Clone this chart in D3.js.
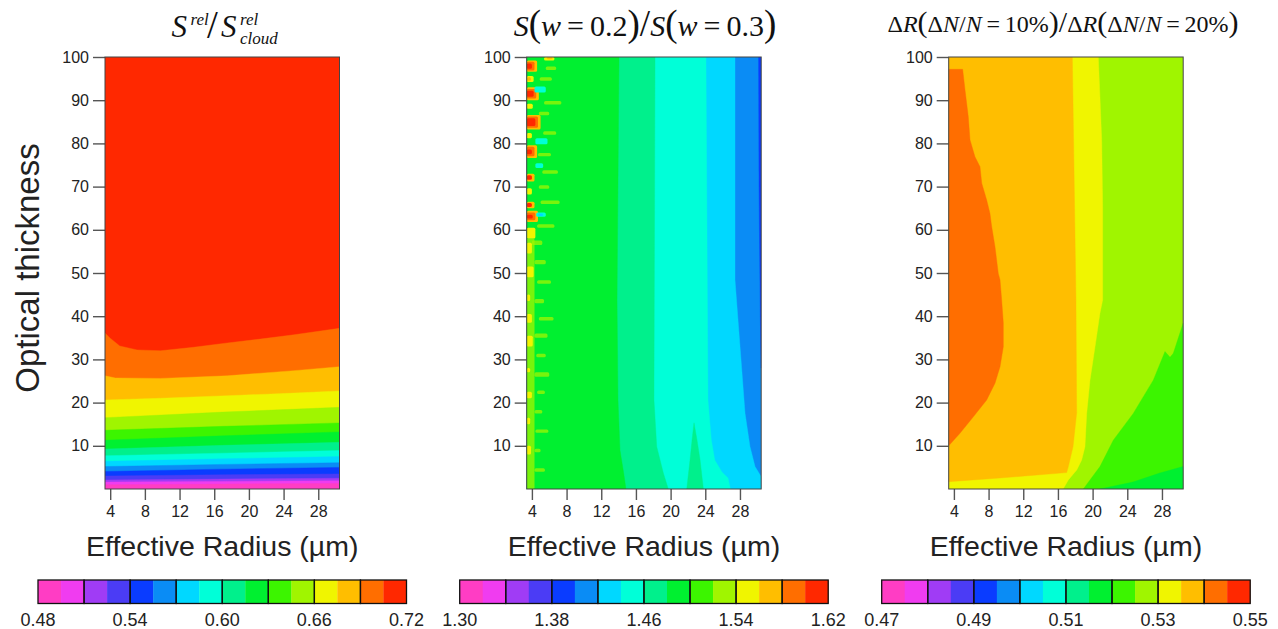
<!DOCTYPE html>
<html>
<head>
<meta charset="utf-8">
<script src="https://cdn.jsdelivr.net/npm/d3@7"></script>
<style>
  body { margin: 0; background: #fff; }
  svg text { font-family: "Liberation Sans", Arial, Helvetica, sans-serif; }
  .math { font-family: "Liberation Serif", "Times New Roman", serif; }
</style>
</head>
<body>
<svg id="chart" width="1278" height="629"></svg>
<script>
// ---- shared data -------------------------------------------------------
const bandColors = ["#ff3dc4", "#f03cf0", "#a03cf5", "#4b3cf5", "#0a3cff", "#0a8cf5",
                    "#00d8ff", "#00ffd8", "#00f08c", "#00f030", "#3cf500", "#a0f500",
                    "#f0f500", "#ffbe00", "#ff6e00", "#ff2800"];
const radiusExtent = [3.4, 30.45];      // effective radius (µm)
const tauExtent = [0, 100];             // optical thickness
const radiusTicks = [4, 8, 12, 16, 20, 24, 28];
const tauTicks = [10, 20, 30, 40, 50, 60, 70, 80, 90, 100];

// colour-bar ranges and labels for the three panels
const cbRange1 = [0.48, 0.72];
const cbLabels1 = [0.48, 0.54, 0.60, 0.66, 0.72];
const cbRange2 = [1.30, 1.62];
const cbLabels2 = [1.30, 1.38, 1.46, 1.54, 1.62];
const cbRange3 = [0.47, 0.55];
const cbLabels3 = [0.47, 0.49, 0.51, 0.53, 0.55];

// ---- panel 1: S_rel / S_rel,cloud -------------------------------------
// contour lines [radius, tau]; the region below line k has colour band k
const relBounds = [
  [[3.4, 1.0], [17, 1.15], [30.45, 1.3]],
  [[3.4, 1.6], [17, 1.75], [30.45, 1.9]],
  [[3.4, 2.1], [17, 2.3], [30.45, 2.5]],
  [[3.4, 3.0], [17, 3.3], [30.45, 3.5]],
  [[3.4, 4.05], [17, 4.6], [30.45, 5.0]],
  [[3.4, 5.2], [17, 5.7], [30.45, 6.1]],
  [[3.4, 6.4], [17, 7.0], [30.45, 7.5]],
  [[3.4, 7.7], [17, 8.3], [30.45, 8.9]],
  [[3.4, 9.25], [17, 10.1], [30.45, 10.8]],
  [[3.4, 11.3], [17, 12.3], [30.45, 13.2]],
  [[3.4, 13.6], [17, 14.5], [30.45, 15.3]],
  [[3.4, 16.5], [17, 17.8], [30.45, 18.9]],
  [[3.4, 20.6], [9.8, 21.0], [17.5, 21.6], [25.2, 22.2], [30.45, 22.7]],
  [[3.4, 26.2], [4.6, 25.7], [9.8, 25.6], [17.5, 26.2], [25.2, 27.4], [30.45, 28.3]],
  [[3.4, 36.1], [4.0, 34.9], [5.1, 33.1], [7.1, 32.2], [9.8, 32.0], [13.6, 32.8],
   [17.5, 33.8], [21.3, 34.7], [25.2, 35.7], [30.45, 37.2]]
];
const relTopBand = 15;

// ---- panel 2: S(w=0.2)/S(w=0.3) ---------------------------------------
// contour lines [tau, radius]; the region left of each line has its band
const widthBase = 5;
const widthBounds = [
  { band: 6, pts: [[100, 27.43], [48.4, 27.43], [32.9, 28.01], [17.5, 28.59], [9.8, 29.16], [5.2, 29.74], [2.85, 30.45], [0, 30.45]] },
  { band: 7, pts: [[100, 24.08], [20.6, 24.31], [11.3, 24.7], [6.7, 25.09], [3.9, 25.93], [2.55, 26.62], [0, 26.9]] },
  { band: 8, pts: [[100, 18.2], [20.6, 18.08], [9.8, 18.4], [3.7, 19.16], [0, 19.73]] },
  { band: 9, pts: [[100, 14.05], [43.75, 13.82], [20.6, 13.93], [9.0, 14.16], [3.24, 14.62], [0, 14.85]] }
];
// closed patches [radius, tau]
const widthPatches = [
  { band: 8, pts: [[21.86, 0], [22.24, 6.7], [22.47, 11.3], [22.7, 15.3], [23.05, 11.3], [23.4, 6.7], [23.78, 0]] },
  { band: 4, pts: [[30.15, 100], [30.45, 100], [30.45, 28], [30.35, 40], [30.2, 70]] }
];
// noisy cells near the smallest radii: [r0, r1, tau0, tau1, band]
const widthSpeckles = [
  // faint lime streaks across the strip
  [3.4, 4.3, 0, 58, 11],
  [4.3, 5.6, 52, 53, 11], [4.6, 6.2, 47.5, 48.3, 11], [4.3, 5.4, 43, 44, 11], [4.8, 6.5, 39, 39.8, 11],
  [4.3, 5.8, 35, 36, 11], [4.5, 5.6, 30.5, 31.3, 11], [4.3, 6.0, 26, 27, 11], [4.6, 5.5, 22, 22.8, 11],
  [4.3, 5.2, 17.5, 18.3, 11], [4.4, 5.9, 13, 13.8, 11], [4.3, 5.0, 8.5, 9.3, 11], [4.3, 5.5, 4, 4.8, 11],
  [4.0, 5.2, 56.5, 57.5, 11], [4.6, 6.6, 60.5, 61.3, 11], [5.0, 7.2, 66, 66.8, 11], [4.8, 6.0, 69.5, 70.3, 11],
  [5.2, 7.0, 73, 73.8, 11], [4.7, 6.2, 77, 77.8, 11], [5.3, 6.8, 82, 82.8, 11], [4.8, 6.0, 86.5, 87.3, 11],
  [5.4, 7.4, 89, 89.8, 11], [4.9, 6.3, 94.5, 95.3, 11], [5.6, 6.8, 97, 97.8, 11],
  [3.4, 3.9, 8, 10, 12], [3.4, 3.8, 15, 16.5, 12], [3.4, 4.0, 21, 22.5, 12], [3.4, 3.8, 27, 28, 12],
  [3.4, 4.1, 33, 35.5, 12], [3.4, 4.0, 38.5, 40.5, 12], [3.4, 3.8, 43.5, 45, 12], [3.4, 4.2, 49, 51.5, 12],
  [3.4, 4.0, 54.5, 57, 12], [3.4, 4.4, 58, 60.5, 12],
  // warm blobs along the left edge with amber/orange rims
  [5.4, 6.6, 99.2, 100, 12], [5.7, 6.4, 99.5, 100, 13],
  [3.4, 4.6, 96.6, 99.2, 13], [3.4, 4.3, 96.9, 98.9, 14], [3.4, 4.0, 97.3, 98.5, 15],
  [3.4, 4.2, 94.2, 95.6, 12], [3.4, 3.9, 94.5, 95.3, 13],
  [3.4, 4.8, 90.0, 93.0, 13], [3.4, 4.5, 90.4, 92.6, 14], [3.4, 4.2, 90.8, 92.2, 15],
  [3.4, 4.1, 88.0, 89.2, 12],
  [3.4, 5.0, 83.2, 86.6, 13], [3.4, 4.7, 83.6, 86.2, 14], [3.4, 4.4, 84.0, 85.8, 15],
  [3.4, 4.0, 81.2, 82.4, 12],
  [3.4, 4.6, 76.6, 79.6, 13], [3.4, 4.3, 77.0, 79.2, 14], [3.4, 4.0, 77.5, 78.6, 15],
  [3.4, 4.3, 71.2, 73.0, 13], [3.4, 4.0, 71.6, 72.6, 15],
  [3.4, 4.0, 68.2, 69.6, 12],
  [3.4, 4.3, 65.0, 66.5, 13], [3.4, 4.0, 65.3, 66.2, 15],
  [3.4, 4.7, 61.8, 64.4, 13], [3.4, 4.4, 62.2, 64.0, 14], [3.4, 4.1, 62.6, 63.5, 15],
  // cool blobs just inside the warm ones
  [4.5, 5.4, 92.0, 93.0, 6], [4.3, 5.6, 91.8, 93.2, 7],
  [4.6, 5.6, 80.0, 81.0, 6], [4.4, 5.8, 79.8, 81.2, 7],
  [4.4, 5.3, 74.3, 75.4, 7],
  [4.5, 5.6, 63.0, 64.0, 7], [4.7, 5.3, 63.2, 63.8, 6]
];

// ---- panel 3: ΔR(10%)/ΔR(20%) ------------------------------------------
const dRBase = 11;
// closed regions [radius, tau], painted in order
const dRRegions = [
  { band: 12, pts: [[3.4, 100], [20.66, 100], [21.05, 80.8], [21.16, 65.3], [21.16, 43.75], [20.85, 40.7],
                    [20.28, 32.9], [19.7, 25.2], [19.32, 17.5], [19.12, 9.8], [18.74, 6.7], [18.17, 4.4],
                    [17.2, 2.1], [16.6, 0], [3.4, 0]] },
  { band: 13, pts: [[3.4, 100], [17.66, 100], [18.08, 43.75], [18.16, 17.6], [17.74, 9.8], [17.2, 5.2],
                    [17.01, 3.8], [9.3, 2.55], [3.4, 1.7]] },
  { band: 14, pts: [[3.4, 97.15], [5.01, 97.15], [5.28, 92.4], [5.66, 86.2], [5.86, 80.8], [6.43, 76.9],
                    [7.01, 74.6], [7.21, 70.8], [7.78, 66.9], [8.16, 63.8], [8.36, 60.7], [8.74, 56.1],
                    [9.12, 49.9], [9.32, 48.4], [9.51, 43.75], [9.7, 38.4], [9.7, 32.9], [9.32, 28.3],
                    [8.74, 24.5], [7.78, 20.6], [6.24, 16.7], [4.7, 12.9], [3.4, 10.0]] },
  { band: 10, pts: [[18.93, 0], [20.85, 5.2], [22.39, 11.3], [24.69, 17.5], [27.0, 25.2], [28.35, 31.8],
                    [28.93, 30.5], [29.31, 31.4], [30.45, 38.4], [30.45, 0]] },
  { band: 9, pts: [[20.85, 0], [24.65, 1.6], [27.76, 3.7], [30.45, 5.2], [30.45, 0]] }
];

// ---- layout -------------------------------------------------------------
const svg = d3.select("#chart");
const panelLefts = [105, 526.7, 948.7];
const panelTop = 57, panelW = 234.5, panelH = 432;
const cbTop = 580, cbW = 368.5, cbH = 23.5;
const defs = svg.append("defs");

function panel(i) {
  const left = panelLefts[i];
  const x = d3.scaleLinear().domain(radiusExtent).range([left, left + panelW]);
  const y = d3.scaleLinear().domain(tauExtent).range([panelTop + panelH, panelTop]);
  defs.append("clipPath").attr("id", "clip" + i)
    .append("rect").attr("x", left).attr("y", panelTop).attr("width", panelW).attr("height", panelH);
  const g = svg.append("g");
  const plot = g.append("g").attr("clip-path", `url(#clip${i})`);
  return { x, y, g, plot, left };
}

function fillAll(p, band) {
  p.plot.append("rect")
    .attr("x", p.x(radiusExtent[0])).attr("y", p.y(tauExtent[1]))
    .attr("width", p.x(radiusExtent[1]) - p.x(radiusExtent[0]))
    .attr("height", p.y(tauExtent[0]) - p.y(tauExtent[1]))
    .attr("fill", bandColors[band]);
}

function polygon(p, pts, band) {
  const line = d3.line().x(d => p.x(d[0])).y(d => p.y(d[1]));
  p.plot.append("path").attr("d", line(pts) + "Z").attr("fill", bandColors[band])
    .attr("stroke", bandColors[band]).attr("stroke-width", 0.4);
}

function axes(p) {
  const ya = d3.axisLeft(p.y).tickValues(tauTicks).tickSize(12).tickPadding(4);
  const xa = d3.axisBottom(p.x).tickValues(radiusTicks).tickSize(11).tickPadding(6);
  const gy = p.g.append("g").attr("transform", `translate(${p.left},0)`).call(ya);
  const gx = p.g.append("g").attr("transform", `translate(0,${panelTop + panelH})`).call(xa);
  [gy, gx].forEach(a => {
    a.select(".domain").remove();
    a.selectAll(".tick line").attr("stroke", "#555").attr("stroke-width", 1.4);
    a.selectAll(".tick text").attr("fill", "#222").attr("font-size", 16)
      .attr("font-family", "Liberation Sans, Arial, sans-serif");
  });
  p.g.append("rect").attr("x", p.left).attr("y", panelTop).attr("width", panelW).attr("height", panelH)
    .attr("fill", "none").attr("stroke", "#444").attr("stroke-width", 1);
  p.g.append("text").attr("x", p.left + panelW / 2).attr("y", 556)
    .attr("text-anchor", "middle").attr("font-size", 28.5).attr("fill", "#222")
    .text("Effective Radius (\u00b5m)");
}

function colorbar(p, range, labels) {
  const cx = p.left + panelW / 2;
  const s = d3.scaleLinear().domain(range).range([cx - cbW / 2, cx + cbW / 2]);
  const step = (range[1] - range[0]) / bandColors.length;
  const g = svg.append("g");
  g.selectAll("rect.cell").data(bandColors).join("rect").attr("class", "cell")
    .attr("x", (d, k) => s(range[0] + k * step)).attr("y", cbTop)
    .attr("width", (d, k) => s(range[0] + (k + 1) * step) - s(range[0] + k * step) + 0.3)
    .attr("height", cbH).attr("fill", d => d);
  g.selectAll("rect.pair").data(d3.range(bandColors.length / 2)).join("rect").attr("class", "pair")
    .attr("x", k => s(range[0] + 2 * k * step)).attr("y", cbTop)
    .attr("width", k => s(range[0] + (2 * k + 2) * step) - s(range[0] + 2 * k * step))
    .attr("height", cbH).attr("fill", "none").attr("stroke", "#111").attr("stroke-width", 1.3);
  g.selectAll("text").data(labels).join("text")
    .attr("x", d => s(d)).attr("y", 626).attr("text-anchor", "middle")
    .attr("font-size", 18).attr("fill", "#222").text(d => d.toFixed(2));
}

// ---- panel 1 -------------------------------------------------------------
const p1 = panel(0);
fillAll(p1, relTopBand);
for (let k = relBounds.length - 1; k >= 0; k--) {
  const area = d3.area().x(d => p1.x(d[0])).y0(p1.y(tauExtent[0])).y1(d => p1.y(d[1]));
  p1.plot.append("path").attr("d", area(relBounds[k])).attr("fill", bandColors[k])
    .attr("stroke", bandColors[k]).attr("stroke-width", 0.4);
}
axes(p1);
colorbar(p1, cbRange1, cbLabels1);

// ---- panel 2 -------------------------------------------------------------
const p2 = panel(1);
fillAll(p2, widthBase);
widthBounds.forEach(b => {
  const area = d3.area().y(d => p2.y(d[0])).x0(p2.x(radiusExtent[0])).x1(d => p2.x(d[1]));
  p2.plot.append("path").attr("d", area(b.pts)).attr("fill", bandColors[b.band])
    .attr("stroke", bandColors[b.band]).attr("stroke-width", 0.4);
});
widthPatches.forEach(r => polygon(p2, r.pts, r.band));
p2.plot.selectAll("rect.speckle").data(widthSpeckles).join("rect").attr("class", "speckle")
  .attr("x", d => p2.x(d[0])).attr("width", d => p2.x(d[1]) - p2.x(d[0]))
  .attr("y", d => p2.y(d[3])).attr("height", d => p2.y(d[2]) - p2.y(d[3]))
  .attr("rx", 1.5).attr("fill", d => bandColors[d[4]])
  .attr("fill-opacity", d => d[4] === 11 ? 0.75 : 1);
axes(p2);
colorbar(p2, cbRange2, cbLabels2);

// ---- panel 3 -------------------------------------------------------------
const p3 = panel(2);
fillAll(p3, dRBase);
dRRegions.forEach(r => polygon(p3, r.pts, r.band));
axes(p3);
colorbar(p3, cbRange3, cbLabels3);

// ---- y-axis title ----------------------------------------------------------
svg.append("text").attr("transform", "translate(39,268) rotate(-90)")
  .attr("text-anchor", "middle").attr("font-size", 33).attr("fill", "#222")
  .text("Optical thickness");

// ---- panel titles ----------------------------------------------------------
const t1 = svg.append("g").attr("fill", "#111");
t1.append("text").attr("class", "math").attr("x", 171.5).attr("y", 37).attr("font-size", 31)
  .attr("font-style", "italic").text("S");
t1.append("text").attr("class", "math").attr("x", 190.5).attr("y", 24.5).attr("font-size", 17)
  .attr("font-style", "italic").text("rel");
t1.append("text").attr("class", "math").attr("x", 207).attr("y", 38).attr("font-size", 39).text("/");
t1.append("text").attr("class", "math").attr("x", 221).attr("y", 37).attr("font-size", 31)
  .attr("font-style", "italic").text("S");
t1.append("text").attr("class", "math").attr("x", 240).attr("y", 24.5).attr("font-size", 17)
  .attr("font-style", "italic").text("rel");
t1.append("text").attr("class", "math").attr("x", 240).attr("y", 44).attr("font-size", 17)
  .attr("font-style", "italic").text("cloud");

function mathTitle(cx, baseline, size, parenSize, parts) {
  const t = svg.append("text").attr("class", "math").attr("x", cx).attr("y", baseline)
    .attr("text-anchor", "middle").attr("font-size", size).attr("fill", "#111");
  parts.forEach(([s, kind]) => {
    const ts = t.append("tspan").text(s);
    if (kind === "i") ts.attr("font-style", "italic");
    if (kind === "p") ts.attr("font-size", parenSize);
  });
}
mathTitle(645, 36, 30, 37, [
  ["S", "i"], ["(", "p"], ["w", "i"], ["\u2009=\u20090.2", ""], [")", "p"], ["/", "p"],
  ["S", "i"], ["(", "p"], ["w", "i"], ["\u2009=\u20090.3", ""], [")", "p"]
]);
mathTitle(1063, 32, 24, 30, [
  ["\u0394", ""], ["R", "i"], ["(", "p"], ["\u0394", ""], ["N", "i"], ["/", ""], ["N", "i"],
  ["\u2009=\u200910%", ""], [")", "p"], ["/", "p"],
  ["\u0394", ""], ["R", "i"], ["(", "p"], ["\u0394", ""], ["N", "i"], ["/", ""], ["N", "i"],
  ["\u2009=\u200920%", ""], [")", "p"]
]);
</script>
</body>
</html>
